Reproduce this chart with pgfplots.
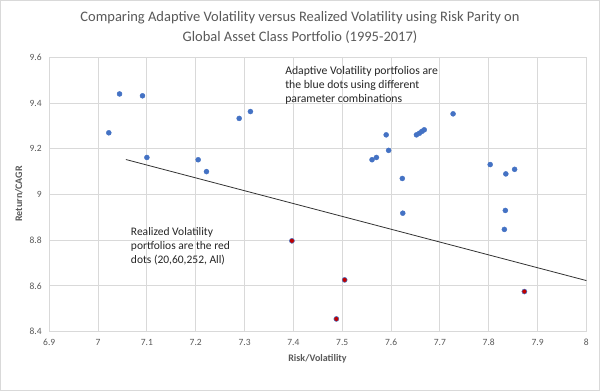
\documentclass[border=0pt]{standalone}
\usepackage{pgfplots}
\pgfplotsset{compat=1.18}
\usepackage{fontspec}
\setmainfont{Carlito}
\definecolor{gridgray}{RGB}{217,217,217}
\definecolor{txtgray}{RGB}{89,89,89}
\definecolor{exblue}{RGB}{68,114,196}
\definecolor{exred}{RGB}{192,0,0}
\begin{document}
\begin{tikzpicture}
\draw[draw=gridgray, fill=white, line width=0.8bp] (0.5bp,0.5bp) rectangle (599.5bp,390.5bp);
\node[font=\fontsize{14.5bp}{20bp}\selectfont, text=txtgray, align=center] at (300bp,363bp)
  {Comparing Adaptive Volatility versus Realized Volatility using Risk Parity on\\Global Asset Class Portfolio (1995-2017)};
\node[font=\fontsize{10bp}{11bp}\selectfont\bfseries, text=txtgray] at (317.5bp,32bp) {Risk/Volatility};
\node[font=\fontsize{10bp}{11bp}\selectfont\bfseries, text=txtgray, rotate=90] at (19bp,197bp) {Return/CAGR};
\begin{axis}[
  at={(49.3bp,59.5bp)}, anchor=south west,
  scale only axis, width=537bp, height=274bp,
  xmin=6.9, xmax=8, ymin=8.4, ymax=9.6,
  xtick={6.9,7,7.1,7.2,7.3,7.4,7.5,7.6,7.7,7.8,7.9,8},
  ytick={8.4,8.6,8.8,9,9.2,9.4,9.6},
  grid=major,
  major grid style={gridgray, line width=0.8bp},
  axis line style={gridgray, line width=0.8bp},
  major tick length=0pt,
  tick label style={font=\fontsize{9.5bp}{11bp}\selectfont, text=txtgray},
  /pgf/number format/assume math mode=true,
  xticklabel style={yshift=-4bp},
  yticklabel style={xshift=-4bp},
  clip=false,
]
\addplot[only marks, mark=*, mark size=2.5bp, mark options={fill=exblue, draw=exblue}] coordinates {
(7.022,9.270) (7.044,9.440) (7.091,9.432) (7.100,9.162) (7.205,9.152) (7.222,9.100)
(7.289,9.333) (7.312,9.363) (7.727,9.353) (7.590,9.261) (7.652,9.261) (7.658,9.268)
(7.663,9.276) (7.668,9.283) (7.595,9.193) (7.561,9.152) (7.570,9.162) (7.623,9.070)
(7.624,8.918) (7.803,9.131) (7.835,9.090) (7.853,9.110) (7.834,8.930) (7.832,8.847)
};
\addplot[only marks, mark=*, mark size=2.5bp, mark options={fill=exred, draw=exblue, line width=0.5bp}] coordinates {
(7.397,8.797) (7.505,8.626) (7.488,8.455) (7.873,8.575)
};
\addplot[black!80, line width=0.8bp] coordinates {(7.057,9.153) (8,8.623)};
\node[anchor=north west, align=left, inner sep=0pt, text=black!85, font=\fontsize{11.7bp}{14bp}\selectfont] at (axis cs:7.383,9.56)
  {Adaptive Volatility portfolios are\\the blue dots using different\\parameter combinations};
\node[anchor=north west, align=left, inner sep=0pt, text=black!85, font=\fontsize{11.5bp}{14bp}\selectfont] at (axis cs:7.067,8.855)
  {Realized Volatility\\portfolios are the red\\dots (20,60,252,  All)};
\end{axis}
\end{tikzpicture}
\end{document}
